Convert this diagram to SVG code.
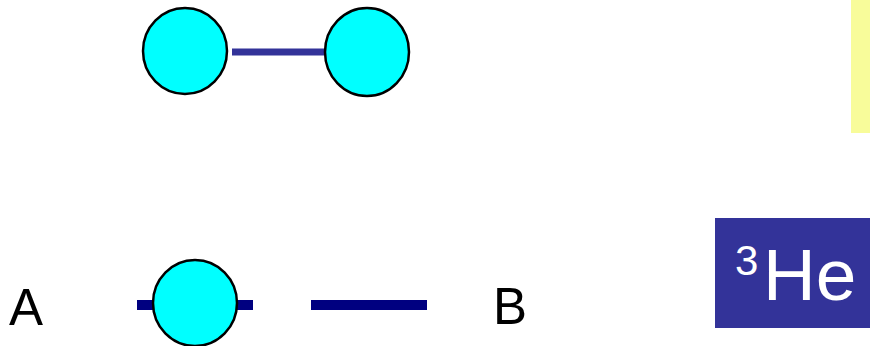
<svg xmlns="http://www.w3.org/2000/svg" width="870" height="346" viewBox="0 0 870 346">
  <style>
    .atom { fill: #00ffff; stroke: #000000; stroke-width: 2.5; }
    .bond { stroke: #333399; stroke-width: 7; }
    .bar { stroke: #000080; stroke-width: 10; }
    .label { font-family: "Liberation Sans", Arial, sans-serif; fill: #000000; font-size: 51px; }
    .he { font-family: "Liberation Sans", Arial, sans-serif; fill: #ffffff; }
  </style>

  <!-- pale yellow strip at the right edge -->
  <rect id="strip" x="851" y="0" width="19" height="133" fill="#f8fc9a"/>

  <!-- connectors -->
  <g id="connectors">
    <line class="bond" x1="232" y1="52" x2="324" y2="52"/>
    <line class="bar" x1="137" y1="305" x2="253" y2="305"/>
    <line class="bar" x1="311" y1="305" x2="427" y2="305"/>
  </g>

  <!-- molecule, upper pair -->
  <g id="atom-left">
    <ellipse class="atom" cx="185" cy="51" rx="42" ry="43"/>
  </g>
  <g id="atom-right">
    <ellipse class="atom" cx="367" cy="52" rx="42" ry="44"/>
  </g>

  <!-- single atom on the lower line -->
  <g id="atom-lower">
    <ellipse class="atom" cx="195" cy="303" rx="42" ry="43"/>
  </g>

  <g id="label-a">
    <text class="label" x="9" y="325">A</text>
  </g>
  <g id="label-b">
    <text class="label" x="493" y="324">B</text>
  </g>

  <!-- helium-3 tag -->
  <g id="he3">
    <rect x="715" y="218" width="155" height="110" fill="#333399"/>
    <text class="he" x="735" y="275" font-size="42">3</text>
    <text class="he" x="763" y="300" font-size="73">He</text>
  </g>
</svg>
